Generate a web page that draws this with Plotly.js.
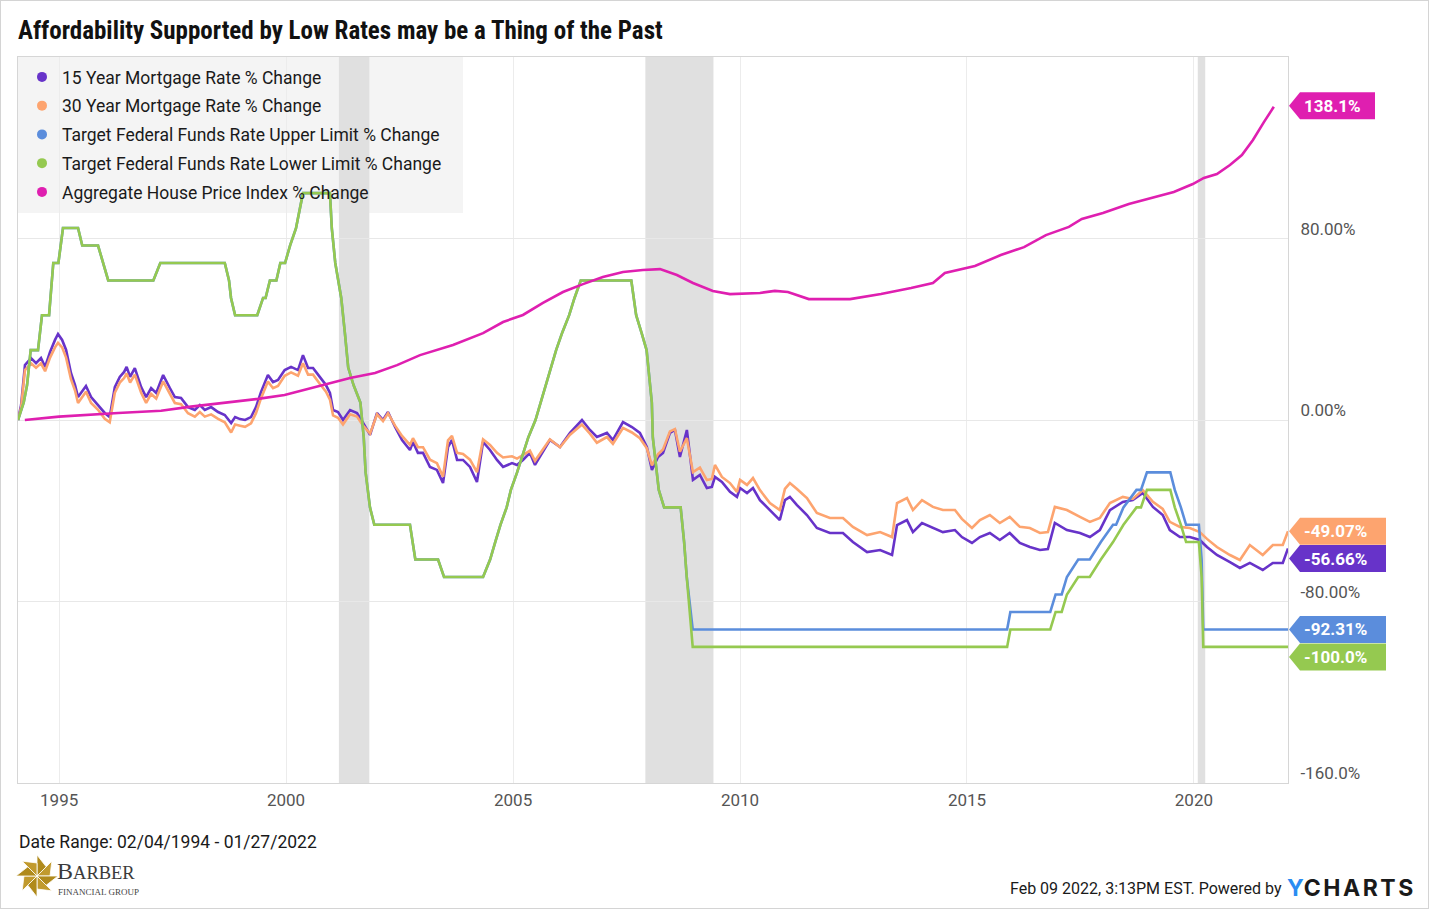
<!DOCTYPE html>
<html><head><meta charset="utf-8">
<script src="https://cdn.plot.ly/plotly-3.0.1.min.js"></script>
<style>
html,body{margin:0;padding:0;background:#fff;}
#frame{position:absolute;left:0;top:0;width:1429px;height:909px;box-sizing:border-box;border:1px solid #d4d4d4;pointer-events:none;}
</style>
</head><body>
<div id="chart" style="width:1429px;height:909px;"></div>
<div id="frame"></div>
<script>
// ---------------- DATA ----------------
const mortgageDates = ['1994-02-04','1994-03-01','1994-04-01','1994-04-25','1994-05-20','1994-06-29','1994-08-08','1994-09-10','1994-10-20','1994-11-29',
'1994-12-23','1995-01-25','1995-02-26','1995-04-06','1995-05-09','1995-06-02','1995-07-04','1995-08-05','1995-09-15','1995-11-10',
'1996-01-03','1996-02-12','1996-03-24','1996-05-03','1996-06-07','1996-06-27','1996-07-25','1996-09-01','1996-10-22','1996-12-01',
'1997-01-10','1997-02-20','1997-04-17','1997-06-10','1997-07-20','1997-09-08','1997-11-03','1997-12-28','1998-02-06','1998-03-18',
'1998-05-08','1998-07-03','1998-08-26','1998-10-16','1998-11-17','1998-12-27','1999-02-05','1999-03-25','1999-05-04','1999-06-13',
'1999-08-08','1999-09-18','1999-10-28','1999-12-21','2000-02-10','2000-04-06','2000-05-16','2000-06-26','2000-08-05','2000-09-28',
'2000-11-17','2000-12-19','2001-01-13','2001-02-22','2001-04-03','2001-05-30','2001-07-25','2001-09-12','2001-11-07','2002-01-02',
'2002-02-19','2002-03-31','2002-05-27','2002-07-22','2002-09-24','2002-10-18','2002-11-27','2003-01-07','2003-03-04','2003-04-29',
'2003-06-17','2003-07-27','2003-08-28','2003-10-08','2003-11-25','2004-01-20','2004-03-16','2004-05-04','2004-06-29','2004-08-24',
'2004-10-12','2004-12-23','2005-02-01','2005-03-21','2005-05-16','2005-06-26','2005-08-05','2005-10-24','2006-01-13','2006-04-04',
'2006-07-09','2006-09-11','2006-11-06','2007-01-26','2007-03-15','2007-06-04','2007-08-15','2007-10-18','2007-12-13','2008-01-23',
'2008-03-12','2008-04-21','2008-06-16','2008-07-26','2008-09-04','2008-10-30','2008-12-18','2009-02-12','2009-04-09','2009-05-19',
'2009-06-13','2009-08-08','2009-10-12','2009-12-07','2010-01-01','2010-02-26','2010-04-15','2010-06-10','2010-08-29','2010-11-17',
'2010-12-28','2011-02-06','2011-04-04','2011-06-23','2011-09-11','2011-12-25','2012-04-08','2012-06-27','2012-10-19','2013-02-01',
'2013-05-08','2013-06-17','2013-09-05','2013-10-23','2014-01-04','2014-04-02','2014-06-21','2014-09-26','2014-11-21','2015-02-10',
'2015-04-15','2015-07-04','2015-09-22','2015-12-11','2016-03-01','2016-05-21','2016-08-10','2016-10-13','2016-12-08','2017-03-15',
'2017-06-28','2017-09-16','2017-12-05','2018-02-24','2018-06-08','2018-08-27','2018-11-16','2019-02-05','2019-04-25','2019-06-21',
'2019-09-10','2019-11-29','2020-02-17','2020-04-15','2020-07-04','2020-10-17','2021-01-05','2021-03-26','2021-07-08','2021-09-27',
'2021-12-16','2022-01-27'];

const rate15Change = [0,6.6,24.2,25.6,27.3,25.1,27.3,23.4,30.0,35.3,37.9,35.3,30.9,20.7,15.4,10.1,12.3,15.0,10.1,6.6,
3.1,1.3,14.5,19.0,21.2,23.4,19.0,22.9,14.5,10.1,14.1,11.9,19.8,14.1,10.1,9.7,5.7,4.4,6.6,4.4,
5.7,3.5,2.2,-1.3,1.3,0.4,0,1.3,5.7,12.3,19.8,16.7,17.6,22.0,23.4,22.0,28.6,22.9,22.9,19.0,
15.4,11.9,4.4,3.5,0,4.4,3.1,-1.3,-6.6,3.1,0,3.5,-3.1,-8.8,-13.2,-9.7,-14.5,-14.5,-20.7,-22.0,
-27.8,-11.9,-8.8,-17.6,-17.6,-20.7,-27.3,-9.7,-13.2,-17.6,-20.7,-19.0,-19.8,-17.6,-14.5,-19.8,-16.3,-8.8,-11.9,-5.7,
0,-4.4,-7.5,-5.7,-8.8,-0.9,-3.1,-5.7,-11.9,-22.0,-16.3,-14.5,-5.7,-4.4,-16.3,-4.4,-26.4,-24.2,-30.0,-29.5,
-25.1,-27.3,-31.7,-33.9,-30.0,-32.2,-30.0,-35.3,-39.7,-44.1,-35.3,-33.9,-37.5,-41.9,-47.6,-49.8,-49.8,-53.8,-58.2,-57.3,
-59.5,-46.3,-44.1,-49.4,-45.4,-47.6,-49.4,-48.5,-51.6,-54.2,-51.6,-49.8,-52.9,-49.8,-54.2,-56.0,-57.3,-56.9,-45.4,-48.5,
-49.8,-51.6,-48.5,-39.7,-36.1,-35.3,-32.2,-38.3,-41.9,-48.5,-51.6,-51.6,-52.9,-56.0,-59.5,-62.6,-65.2,-63.0,-66.1,-63.0,
-63.0,-56.66];

const rate30Change = [0,5.5,22,23.5,25,23,25,21.5,27.5,32,34,32,27.5,18,13,7.5,10,12.5,7.5,4.5,
0.5,-1,12,16.5,18.5,20.5,16.5,20,12,7.5,11.5,9.5,17,11.5,7.5,7,3,1.5,3.5,1.5,
2.5,0.5,-1,-5.5,-2,-2.5,-3,-1.5,3,9.5,17,14,15,19.5,21,19.5,25,20,20,16,
12.5,9,2,1,-2,2.5,1.5,-2.5,-6,2.5,-0.5,3,-2.5,-7,-11,-8,-12,-12,-17.5,-19,
-25,-9,-7,-14.5,-15,-17.5,-23,-8.5,-11,-14.5,-16.5,-16,-17,-15.5,-13.5,-18,-15,-8.5,-12,-6.5,
-2,-6,-10,-7.5,-10.5,-3.5,-5.5,-8,-12.5,-20,-15,-13,-5,-4,-14,-8,-23,-21,-26.5,-26,
-19.8,-25.1,-27.8,-31.7,-26.4,-28.6,-25.6,-30.9,-36.6,-39.7,-30.4,-27.8,-30.4,-34.4,-41,-43.2,-43.2,-47.1,-50.7,-49.4,
-51.6,-36.6,-34.4,-39.7,-35.3,-38.3,-39.7,-39.7,-43.6,-47.6,-44.1,-41.9,-45.4,-42.7,-47.1,-47.6,-49.8,-49.4,-38.3,-39.7,
-42.7,-44.9,-43.2,-36.6,-33.9,-34.8,-30.9,-36.1,-39.2,-44.9,-47.1,-47.6,-49.4,-52.4,-56.0,-59.5,-61.7,-55.1,-59.5,-55.1,
-55.1,-49.07];

// Fed funds target (identical upper/lower before Dec 2008)
const fedSharedDates = ['1994-02-04','1994-03-22','1994-04-18','1994-05-17','1994-07-15','1994-08-16','1994-10-12','1994-11-15','1994-12-26','1995-02-01',
'1995-06-02','1995-07-06','1995-11-10','1995-12-19','1996-01-31','1997-01-28','1997-03-25','1998-08-26','1998-09-29','1998-10-15',
'1998-11-17','1999-05-14','1999-06-30','1999-07-20','1999-08-24','1999-10-15','1999-11-16','1999-12-24','2000-02-02','2000-03-21',
'2000-05-16','2000-12-19','2001-01-03','2001-01-31','2001-03-20','2001-04-18','2001-05-15','2001-06-27','2001-08-21','2001-09-17',
'2001-10-02','2001-11-06','2001-12-11','2002-09-24','2002-11-06','2003-05-08','2003-06-25','2004-05-04','2004-06-30','2004-08-10',
'2004-09-21','2004-11-10','2004-12-14','2005-02-02','2005-03-22','2005-05-03','2005-06-30','2005-08-09','2005-09-20','2005-11-01',
'2005-12-13','2006-01-31','2006-03-28','2006-05-10','2006-06-29','2007-08-10','2007-09-18','2007-10-31','2007-12-11','2008-01-22',
'2008-01-30','2008-03-18','2008-04-30','2008-09-10','2008-10-08','2008-10-29'];
const fedSharedChange = [0,7.7,15.4,30.8,30.8,46.2,46.2,69.2,69.2,84.6,
84.6,76.9,76.9,69.2,61.5,61.5,69.2,69.2,61.5,53.8,
46.2,46.2,53.8,53.8,61.5,61.5,69.2,69.2,76.9,84.6,
100,100,84.6,69.2,53.8,38.5,23.1,15.4,7.7,-7.7,
-23.1,-38.5,-46.2,-46.2,-61.5,-61.5,-69.2,-69.2,-61.5,-53.8,
-46.2,-38.5,-30.8,-23.1,-15.4,-7.7,0,7.7,15.4,23.1,
30.8,38.5,46.2,53.8,61.5,61.5,46.2,38.5,30.8,7.7,
-7.7,-30.8,-38.5,-38.5,-53.8,-69.2];

const fedUpperTailDates = ['2008-12-16','2015-11-20','2015-12-16','2016-11-01','2016-12-14','2017-02-01','2017-03-15','2017-06-14','2017-09-15','2017-12-13',
'2018-03-21','2018-04-15','2018-06-13','2018-09-26','2018-11-01','2018-12-19','2019-06-25','2019-07-31','2019-09-18','2019-10-30',
'2020-02-10','2020-03-03','2020-03-16','2022-01-27'];
const fedUpperTailChange = [-92.31,-92.31,-84.6,-84.6,-76.9,-76.9,-69.2,-61.5,-61.5,-53.8,
-46.2,-46.2,-38.5,-30.8,-30.8,-23.1,-23.1,-30.8,-38.5,-46.2,
-46.2,-61.5,-92.31,-92.31];

const fedLowerTailDates = ['2008-12-16','2015-11-20','2015-12-16','2016-11-01','2016-12-14','2017-02-01','2017-03-15','2017-06-14','2017-09-15','2017-12-13',
'2018-03-21','2018-06-13','2018-09-26','2018-11-01','2018-12-19','2019-06-25','2019-07-31','2019-09-18','2019-10-30','2020-02-10',
'2020-03-03','2020-03-16','2022-01-27'];
const fedLowerTailChange = [-100,-100,-92.31,-92.31,-84.6,-84.6,-76.9,-69.2,-69.2,-61.5,
-53.8,-46.2,-38.5,-38.5,-30.8,-30.8,-38.5,-46.2,-53.8,-53.8,
-69.2,-100,-100];

const hpiDates = ['1994-03-31','1994-12-31','1996-04-20','1997-03-31','1997-11-27','1998-08-26','1999-05-20','1999-12-20','2000-07-20','2000-12-28',
'2001-05-30','2001-12-17','2002-06-12','2002-12-14','2003-09-05','2004-05-04','2004-10-12','2005-03-21','2005-08-29','2006-02-06',
'2006-07-17','2006-12-24','2007-06-04','2007-11-11','2008-03-28','2008-08-11','2008-12-18','2009-05-27','2009-10-12','2010-06-10',
'2010-10-08','2011-01-21','2011-07-08','2012-06-04','2013-02-08','2013-10-08','2014-04-02','2014-07-07','2015-03-06','2015-09-30',
'2016-04-04','2016-09-27','2017-03-31','2017-07-13','2017-12-30','2018-07-26','2019-01-20','2019-07-23','2019-12-23','2020-03-21',
'2020-07-04','2020-10-17','2021-01-21','2021-04-20','2021-07-17','2021-10-05'];
const hpiChange = [0,1.5,3.1,4.1,5.9,7.6,9.3,11.0,14.1,16.3,
18.5,20.7,24.2,28.6,33.1,38.3,43.2,46.3,51.6,56.4,
59.9,63.0,65.2,66.1,66.5,63.9,60.4,56.9,55.5,56.0,
56.9,56.4,53.3,53.3,55.5,58.2,60.4,64.8,67.9,72.7,
76.2,81.5,85.1,88.6,91.2,95.2,97.8,100.5,104.0,106.7,
108.4,112.4,116.8,123.4,131.3,138.1];

const recessionStarts = ['2001-03-01','2007-12-01','2020-02-01'];
const recessionEnds   = ['2001-11-01','2009-06-01','2020-04-01'];

const yearTickVals = ['1995-01-01','2000-01-01','2005-01-01','2010-01-01','2015-01-01','2020-01-01'];
const yearTickText = ['1995','2000','2005','2010','2015','2020'];
const yTickVals = [-160,-80,0,80];
const yTickText = ['-160.0%','-80.00%','0.00%','80.00%'];

const seriesNames = ['15 Year Mortgage Rate % Change','30 Year Mortgage Rate % Change',
  'Target Federal Funds Rate Upper Limit % Change','Target Federal Funds Rate Lower Limit % Change',
  'Aggregate House Price Index % Change'];
const seriesColors = ['#6733c9','#fda46f','#5b8ddc','#95c950','#df1fb0'];

// ---------------- BUILD ----------------
const FONT = 'Roboto, "Noto Sans", sans-serif';
const upperX = fedSharedDates.concat(fedUpperTailDates), upperY = fedSharedChange.concat(fedUpperTailChange);
const lowerX = fedSharedDates.concat(fedLowerTailDates), lowerY = fedSharedChange.concat(fedLowerTailChange);

const seriesX = [mortgageDates, mortgageDates, upperX, lowerX, hpiDates];
const seriesY = [rate15Change, rate30Change, upperY, lowerY, hpiChange];

const traces = [];
seriesX.forEach((xs, i) => {
  traces.push({type:'scatter', mode:'lines', x: xs, y: seriesY[i], name: seriesNames[i],
    line:{color: seriesColors[i], width: 2.6}, showlegend:false, hoverinfo:'skip'});
});
seriesNames.forEach((n, i) => {
  traces.push({type:'scatter', mode:'markers', x:[null], y:[null], name:n, legendgroup:'g'+i,
    marker:{color: seriesColors[i], size: 10}, showlegend:true, hoverinfo:'skip'});
});

// plot geometry (pixels)
const L = 18, R = 1288, T = 57, B = 783;
const W = R - L, H = B - T;
const px = v => (v - L) / W;
const py = v => (B - v) / H;

const shapes = [];
// legend background
shapes.push({type:'rect', xref:'paper', yref:'paper', x0:px(18), x1:px(463), y0:py(213), y1:py(57),
  fillcolor:'#f4f4f4', line:{width:0}, layer:'below'});
// recessions
recessionStarts.forEach((s, i) => {
  shapes.push({type:'rect', xref:'x', yref:'paper', x0:s, x1:recessionEnds[i], y0:0, y1:1,
    fillcolor:'#e0e0e0', line:{width:0}, layer:'below'});
});

// end-value tags
const annotations = [];
const tagOrder = [4, 1, 0, 2, 3];
const tagShift = {4:1, 1:0, 0:-10, 2:0, 3:-10};
const tagWidth = {4:87, 1:98, 0:98, 2:98, 3:98};
tagOrder.forEach(i => {
  const ys = seriesY[i];
  const v = ys[ys.length - 1];
  const yp = (v + 160) / 320;
  const off = tagShift[i], h = 13.5, w = tagWidth[i];
  shapes.push({type:'path', xref:'paper', yref:'paper', xsizemode:'pixel', ysizemode:'pixel',
    xanchor:1, yanchor:yp,
    path:`M1,${off} L12,${off+h} L${w},${off+h} L${w},${off-h} L12,${off-h} Z`,
    fillcolor: seriesColors[i], line:{width:0}, layer:'above'});
  annotations.push({xref:'paper', yref:'paper', x:1, y:yp, xanchor:'left', yanchor:'middle',
    xshift:14, yshift:off, showarrow:false, text:'<b>' + v.toPrecision(4) + '%</b>',
    font:{family:FONT, size:17, color:'#ffffff'}});
});

// footer
annotations.push({xref:'paper', yref:'paper', x:px(17), y:py(842), xanchor:'left', yanchor:'middle',
  showarrow:false, text:'Date Range: 02/04/1994 - 01/27/2022', font:{family:FONT, size:17.5, color:'#1a1a1a'}});
annotations.push({xref:'paper', yref:'paper', x:px(1284), y:py(888), xanchor:'right', yanchor:'middle',
  showarrow:false, text:'Feb 09 2022, 3:13PM EST. Powered by', font:{family:FONT, size:16, color:'#1a1a1a'}});
annotations.push({xref:'paper', yref:'paper', x:px(1285), y:py(888), xanchor:'left', yanchor:'middle',
  showarrow:false, text:'<b><span style="color:#2a8cf2">Y</span><span style="letter-spacing:2.5px">CHARTS</span></b>',
  font:{family:'Inter, Roboto, sans-serif', size:23, color:'#1a1a1a'}});
// Barber logo text
annotations.push({xref:'paper', yref:'paper', x:px(55), y:py(871), xanchor:'left', yanchor:'middle',
  showarrow:false, text:'<span style="font-size:24px">B</span>ARBER',
  font:{family:'"Liberation Serif", "DejaVu Serif", serif', size:18.5, color:'#3b3b3b'}});
annotations.push({xref:'paper', yref:'paper', x:px(56), y:py(892), xanchor:'left', yanchor:'middle',
  showarrow:false, text:'FINANCIAL GROUP',
  font:{family:'"Liberation Serif", "DejaVu Serif", serif', size:9, color:'#444'}});
// pinwheel decoration
const cx = 37, cy = 876, Rr = 21;
for (let k = 0; k < 8; k++) {
  const a1 = (k * 45 - 90) * Math.PI / 180, a2 = (k * 45 - 45) * Math.PI / 180;
  const r2 = Rr * 0.62;
  const p1 = [cx + Rr * Math.cos(a1), cy + Rr * Math.sin(a1)];
  const p2 = [cx + r2 * Math.cos(a2), cy + r2 * Math.sin(a2)];
  shapes.push({type:'path', xref:'paper', yref:'paper',
    path:`M${px(cx)},${py(cy)} L${px(p1[0])},${py(p1[1])} L${px(p2[0])},${py(p2[1])} Z`,
    fillcolor: k % 2 ? '#c19a2e' : '#b08a1c', line:{color:'#ffffff', width:0.8}, layer:'above'});
}

const layout = {
  width:1429, height:909,
  paper_bgcolor:'#ffffff', plot_bgcolor:'#ffffff',
  margin:{l:L, r:1429 - R, t:T, b:909 - B, autoexpand:false},
  font:{family:FONT, color:'#333'},
  title:{text:'<b>Affordability Supported by Low Rates may be a Thing of the Past</b>',
    x:18/1429, xanchor:'left', xref:'container', y:1 - 30/909, yanchor:'middle', yref:'container',
    font:{family:'"Roboto Condensed", "Liberation Sans Narrow", "DejaVu Sans Condensed", Roboto, sans-serif', size:25, color:'#111'}},
  xaxis:{type:'date', range:['1994-02-04','2022-01-27'], tickmode:'array', tickvals:yearTickVals, ticktext:yearTickText,
    showgrid:true, gridcolor:'#ececec', gridwidth:1, zeroline:false, showline:true, mirror:true, linecolor:'#d6d6d6', linewidth:1,
    ticks:'', ticklabelstandoff:2, tickfont:{family:FONT, size:17, color:'#555'}, fixedrange:true},
  yaxis:{range:[-160,160], side:'right', tickmode:'array', tickvals:yTickVals, ticktext:yTickText,
    showgrid:true, gridcolor:'#e8e8e8', gridwidth:1, zeroline:false, showline:true, mirror:true, linecolor:'#d6d6d6', linewidth:1,
    ticks:'', ticklabelposition:'outside top', ticklabelstandoff:8, ticklabelshift:2, tickfont:{family:FONT, size:17, color:'#555'}, fixedrange:true},
  showlegend:true,
  legend:{x:px(22), y:py(59), xanchor:'left', yanchor:'top', bgcolor:'rgba(0,0,0,0)', borderwidth:0,
    traceorder:'grouped', tracegroupgap:3, font:{family:FONT, size:17.5, color:'#1a1a1a'}, itemclick:false},
  shapes: shapes,
  annotations: annotations
};

Plotly.newPlot('chart', traces, layout, {staticPlot:true, displayModeBar:false});
</script>
</body></html>
